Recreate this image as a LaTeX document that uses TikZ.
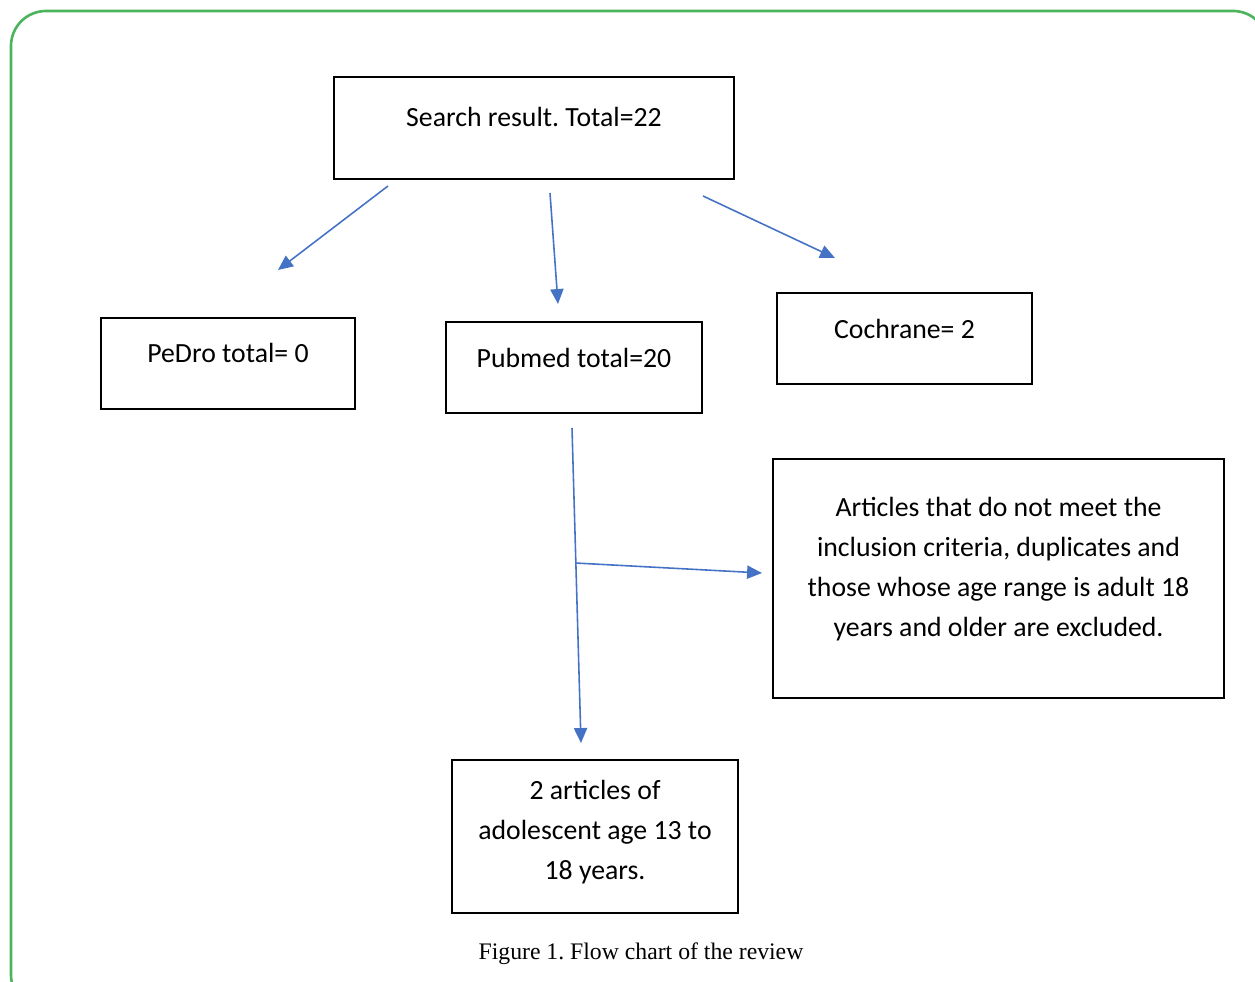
\documentclass[tikz,border=0pt]{standalone}
\usepackage{fontspec}
\setmainfont{Carlito}
\newfontfamily\capfont{Liberation Serif}
\usetikzlibrary{arrows.meta}
\usepackage{xcolor}
\definecolor{hblue}{HTML}{4472C4}
\definecolor{hgreen}{HTML}{4CB45C}
\frenchspacing

\tikzset{
  box/.style={draw, line width=1pt, align=center, font=\fontsize{15.8}{22.8}\selectfont},
  up/.style={text height=9pt, text depth=#1},
  arr/.style={hblue, line width=0.9pt, -{Triangle[length=8.5pt,width=7.5pt]}}
}

\begin{document}
\begin{tikzpicture}[x=0.02cm,y=-0.02cm]
              \useasboundingbox (0,0) rectangle (1255,982);
              \draw[hgreen, line width=1.5pt, rounded corners=0.7cm] (11,11) rectangle (1268,1010);
              % boxes
              \node[box, up=10.2pt, minimum width=8cm, minimum height=2.04cm] (search) at (534,128) {Search result. Total=22};
              \node[box, up=9.6pt, minimum width=5.08cm, minimum height=1.82cm] (pedro) at (228,363.5) {PeDro total= 0};
              \node[box, up=8.5pt, minimum width=5.12cm, minimum height=1.82cm] (pubmed) at (574,367.5) {Pubmed total=20};
              \node[box, up=8.5pt, minimum width=5.1cm, minimum height=1.82cm] (cochrane) at (904.5,338.5) {Cochrane= 2};
              \node[box, minimum width=9.02cm, minimum height=4.78cm] (excl) at (998.5,578.5) {Articles that do not meet the\\ inclusion criteria, duplicates and\\ those whose age range is adult 18\\ years and older are excluded.\rule[-13.6pt]{0pt}{0pt}};
              \node[box, minimum width=5.72cm, minimum height=3.06cm] (final) at (595,836.5) {2 articles of\\ adolescent age 13 to\\ 18 years.\rule[-8pt]{0pt}{0pt}};
              % arrows
              \coordinate (s1) at (388,186); \coordinate (e1) at (278,270);
              \coordinate (s2) at (550,193); \coordinate (e2) at (558,304);
              \coordinate (s3) at (703,196); \coordinate (e3) at (835,258);
              \coordinate (s4) at (572,428); \coordinate (e4) at (581,743);
              \coordinate (s5) at (575,563); \coordinate (e5) at (762,573);
              \draw[arr] (s1) -- (e1);
              \draw[arr] (s2) -- (e2);
              \draw[arr] (s3) -- (e3);
              \draw[arr] (s4) -- (e4);
              \draw[arr] (s5) -- (e5);
              \node[font=\capfont\fontsize{13.5}{16}\selectfont] (caption) at (641,954) {Figure 1. Flow chart of the review};
            \end{tikzpicture}
\end{document}
